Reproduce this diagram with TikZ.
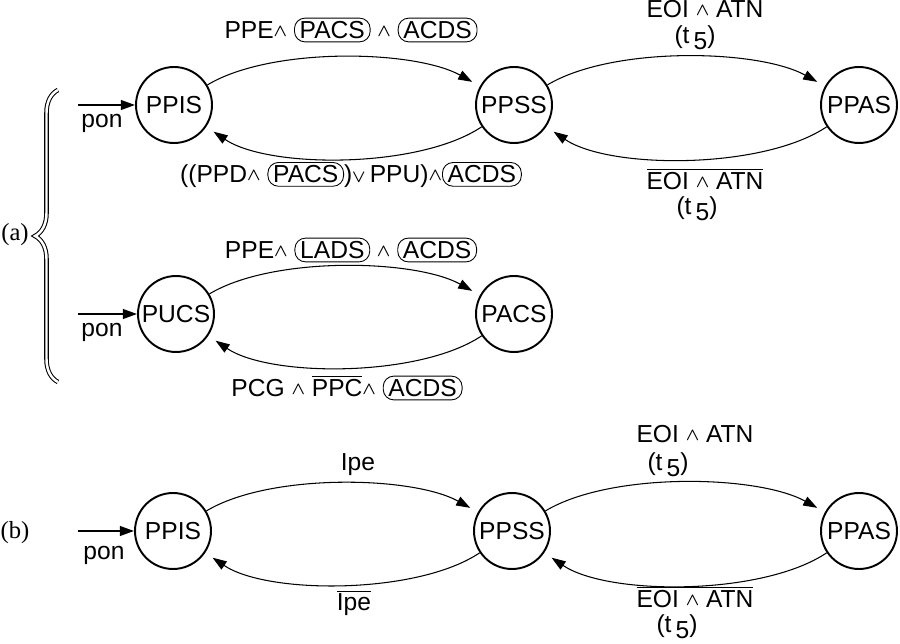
\documentclass[tikz,border=0pt]{standalone}
\usepackage{fontspec}
\setmainfont{Liberation Sans}
\newfontfamily\tagfont{Liberation Serif}
\usetikzlibrary{arrows.meta, positioning, decorations.pathreplacing}

\newcommand{\wedgeop}{\raisebox{0.15ex}{\fontsize{10}{12}\selectfont\boldmath$\wedge$}}
\newcommand{\veeop}{\raisebox{0.05ex}{\fontsize{10}{12}\selectfont\boldmath$\vee$}}
\newcommand{\cbox}[1]{\tikz[baseline=(cb.base)]\node[draw, rounded corners=6pt, inner xsep=3pt, inner ysep=1.8pt, line width=0.5pt](cb){#1};}
\newcommand{\tfive}{(t\,\raisebox{-0.45ex}{5})}

\tikzset{
  state/.style={circle, draw, line width=1.1pt, minimum size=1.52cm, inner sep=0pt},
  trans/.style={-{Triangle[length=8pt,width=5.5pt]}, line width=0.6pt, shorten >=5pt},
  fwd/.style={trans, out=31, in=151, looseness=0.7},
  bwd/.style={trans, out=214, in=-34, looseness=0.7},
  init/.style={-{Triangle[length=8pt,width=5.5pt]}, line width=1.1pt},
  lbl/.style={inner sep=0pt}
}

\begin{document}
\begin{tikzpicture}[x=0.02cm, y=0.02cm, font=\fontsize{14}{16}\selectfont]
	\useasboundingbox (0, 0) rectangle (900, 643);
	% States (a):
	\node[state](PPISa) at (174, 538){PPIS};
	\node[state](PPSSa) at (514, 538){PPSS};
	\node[state](PPASa) at (859, 538){PPAS};
	\node[state](PUCS) at (176, 329){PUCS};
	\node[state](PACS) at (514, 329){PACS};
	% States (b):
	\node[state](PPISb) at (173, 112){PPIS};
	\node[state](PPSSb) at (512, 112){PPSS};
	\node[state](PPASb) at (859, 112){PPAS};
	% Power-on arrows:
	\coordinate (s1) at (78, 538);
	\coordinate (s2) at (78, 329);
	\coordinate (s3) at (78, 112);
	\draw[init] (s1) -- (PPISa);
	\draw[init] (s2) -- (PUCS);
	\draw[init] (s3) -- (PPISb);
	\node[lbl](pon1) at (102, 520){pon};
	\node[lbl](pon2) at (102, 311){pon};
	\node[lbl](pon3) at (104, 88){pon};
	% Transitions (a), first row:
	\draw[fwd] (PPISa) to (PPSSa);
	\draw[bwd] (PPSSa) to (PPISa);
	\draw[fwd] (PPSSa) to (PPASa);
	\draw[bwd] (PPASa) to (PPSSa);
	\node[lbl](l1) at (351, 613){PPE\wedgeop\ \cbox{PACS} \wedgeop\ \cbox{ACDS}};
	\node[lbl](l2) at (351, 468){((PPD\wedgeop\ \cbox{PACS})\veeop\,PPU)\wedgeop\cbox{ACDS}};
	\node[lbl](l3) at (705, 634){EOI \wedgeop\ ATN};
	\node[lbl](l4) at (695, 605){\tfive};
	\node[lbl](l5) at (705, 464){$\overline{\mbox{EOI \wedgeop\ ATN}}$};
	\node[lbl](l6) at (697, 434){\tfive};
	% Transitions (a), second row:
	\draw[fwd] (PUCS) to (PACS);
	\draw[bwd] (PACS) to (PUCS);
	\node[lbl](l7) at (351, 393){PPE\wedgeop\ \cbox{LADS} \wedgeop\ \cbox{ACDS}};
	\node[lbl](l8) at (347, 255){PCG \wedgeop\ $\overline{\mbox{PPC}}$\wedgeop\ \cbox{ACDS}};
	% Transitions (b):
	\draw[fwd] (PPISb) to (PPSSb);
	\draw[bwd] (PPSSb) to (PPISb);
	\draw[fwd] (PPSSb) to (PPASb);
	\draw[bwd] (PPASb) to (PPSSb);
	\node[lbl](l9) at (358, 178){Ipe};
	\node[lbl](l10) at (354, 40){$\overline{\mbox{Ipe}}$};
	\node[lbl](l11) at (695, 209){EOI \wedgeop\ ATN};
	\node[lbl](l12) at (668, 178){\tfive};
	\node[lbl](l13) at (695, 46){$\overline{\mbox{EOI \wedgeop\ ATN}}$};
	\node[lbl](l14) at (677, 16){\tfive};
	% Brace and tags:
	\coordinate (b1) at (58, 261);
	\coordinate (b2) at (58, 553);
	\draw[double, double distance=1.4pt, line width=0.6pt, decorate, decoration={brace, amplitude=0.46cm}] (b1) -- (b2);
	\node[lbl, font=\tagfont\fontsize{14}{16}\selectfont](taga) at (15, 408){(a)};
	\node[lbl, font=\tagfont\fontsize{14}{16}\selectfont](tagb) at (15, 110){(b)};
\end{tikzpicture}
\end{document}
